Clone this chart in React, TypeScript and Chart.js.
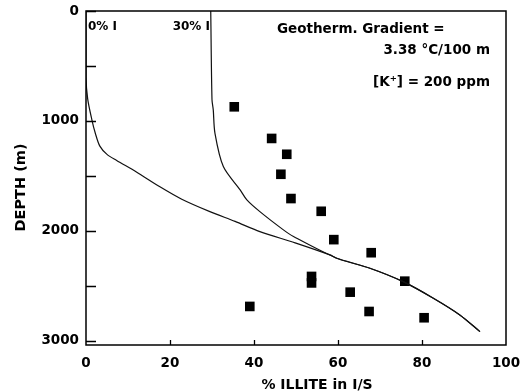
import React, { useEffect, useRef } from "react";
import { Chart, registerables } from "chart.js";

Chart.register(...registerables);

// Curve starting at 0% illite
const curve0X = [0, 0, 0.4, 1.4, 2.2, 3.3, 5.0, 7.3, 12.0, 17.6, 22.8, 29.5, 35.5, 41.4, 49.8, 58.1, 59.7, 67.6, 75.5, 82.7, 89.0, 93.8];
const curve0Depth = [0, 600, 800, 990, 1110, 1230, 1305, 1360, 1465, 1600, 1713, 1826, 1915, 2008, 2110, 2220, 2250, 2341, 2463, 2614, 2766, 2918];

// Curve starting at 30% illite
const curve30X = [29.7, 30.0, 30.3, 30.7, 32.7, 36.7, 38.3, 41.4, 47.0, 49.4, 59.7, 67.6, 75.5, 82.7, 89.0, 93.8];
const curve30Depth = [0, 808, 900, 1112, 1416, 1628, 1719, 1826, 1992, 2053, 2250, 2341, 2463, 2614, 2766, 2918];

// Measured samples
const sampleX = [35.3, 44.2, 47.8, 46.4, 48.8, 56.0, 59.0, 67.9, 53.7, 53.7, 62.9, 75.9, 67.4, 80.5, 39.0];
const sampleDepth = [872, 1160, 1304, 1486, 1707, 1823, 2081, 2200, 2416, 2475, 2559, 2459, 2735, 2792, 2689];

const xTickValues = [0, 20, 40, 60, 80, 100];
const yTickValues = [0, 500, 1000, 1500, 2000, 2500, 3000];
const yLabelValues = [0, 1000, 2000, 3000];

const FONT = "'DejaVu Sans', sans-serif";

const decor = {
  id: "decor",
  afterDraw(chart: any) {
    const { ctx, chartArea: a, scales } = chart;
    const x = scales.x;
    const y = scales.y;
    ctx.save();
    ctx.strokeStyle = "#000";
    ctx.lineWidth = 1.5;
    ctx.strokeRect(a.left, a.top, a.right - a.left, a.bottom - a.top);
    ctx.lineWidth = 1.3;
    ctx.beginPath();
    for (const v of yTickValues) {
      const py = Math.round(y.getPixelForValue(v)) + 0.5;
      ctx.moveTo(a.left, py);
      ctx.lineTo(a.left + 10, py);
    }
    for (const v of xTickValues) {
      if (v === 0 || v === 100) continue;
      const px = Math.round(x.getPixelForValue(v)) + 0.5;
      ctx.moveTo(px, a.bottom);
      ctx.lineTo(px, a.bottom - 5);
    }
    ctx.stroke();

    ctx.fillStyle = "#000";
    ctx.textBaseline = "alphabetic";
    ctx.font = `bold 12px ${FONT}`;
    ctx.textAlign = "left";
    ctx.fillText("0% I", a.left + 2, a.top + 19);
    ctx.textAlign = "right";
    ctx.fillText("30% I", x.getPixelForValue(30) - 2, a.top + 19);

    ctx.font = `bold 13.5px ${FONT}`;
    ctx.textAlign = "left";
    ctx.fillText("Geotherm. Gradient =", 277, 33);
    ctx.textAlign = "right";
    ctx.fillText("3.38 °C/100 m", 490, 54);
    ctx.fillText("[K⁺] = 200 ppm", 490, 86);

    ctx.font = `bold 14px ${FONT}`;
    ctx.textAlign = "center";
    ctx.fillText("% ILLITE in I/S", 317, 389);
    ctx.save();
    ctx.translate(25, 187.5);
    ctx.rotate(-Math.PI / 2);
    ctx.font = `bold 14.5px ${FONT}`;
    ctx.fillText("DEPTH (m)", 0, 0);
    ctx.restore();
    ctx.restore();
  },
};

const zeroPad = (s: any) => {
  s.paddingTop = 0;
  s.paddingBottom = 0;
  s.paddingLeft = 0;
  s.paddingRight = 0;
};

export default function App() {
  const ref = useRef<HTMLCanvasElement | null>(null);
  useEffect(() => {
    if (!ref.current) return;
    Chart.defaults.font.family = FONT;
    const toPts = (xs: number[], ys: number[]) => xs.map((v, i) => ({ x: v, y: ys[i] }));
    const chart = new Chart(ref.current, {
      type: "scatter",
      data: {
        datasets: [
          { data: toPts(curve0X, curve0Depth), showLine: true, borderColor: "#111", borderWidth: 1.2, pointRadius: 0, tension: 0.3 },
          { data: toPts(curve30X, curve30Depth), showLine: true, borderColor: "#111", borderWidth: 1.2, pointRadius: 0, tension: 0.3 },
          { data: toPts(sampleX, sampleDepth), showLine: false, pointStyle: "rect", pointRadius: 6.8, backgroundColor: "#000", borderColor: "#000", borderWidth: 0 },
        ],
      },
      options: {
        responsive: false,
        animation: false,
        layout: { padding: { left: 0, right: 15, top: 11, bottom: 0 } },
        plugins: { legend: { display: false }, tooltip: { enabled: false } },
        scales: {
          x: {
            type: "linear", min: 0, max: 100,
            afterFit: (s: any) => { s.height = 47; zeroPad(s); },
            afterBuildTicks: (s: any) => { s.ticks = xTickValues.map((v) => ({ value: v })); },
            grid: { display: false, drawTicks: false },
            border: { display: false },
            ticks: { padding: 10, color: "#000", font: { family: FONT, size: 13.5, weight: "bold" }, maxRotation: 0, callback: (v: any) => String(v) },
          },
          y: {
            type: "linear", reverse: true, min: 0, max: 3040,
            afterFit: (s: any) => { s.width = 86; zeroPad(s); },
            afterBuildTicks: (s: any) => { s.ticks = yTickValues.map((v) => ({ value: v })); },
            grid: { display: false, drawTicks: false },
            border: { display: false },
            ticks: { padding: 7, color: "#000", font: { family: FONT, size: 13.5, weight: "bold" }, callback: (v: any) => (yLabelValues.includes(Number(v)) ? String(v) : "") },
          },
        },
      },
      plugins: [decor],
    });
    return () => chart.destroy();
  }, []);
  return (
    <div style={{ position: "fixed", left: 0, top: 0, width: 521, height: 392, background: "#fff" }}>
      <canvas ref={ref} width={521} height={392} style={{ width: 521, height: 392 }} />
    </div>
  );
}
